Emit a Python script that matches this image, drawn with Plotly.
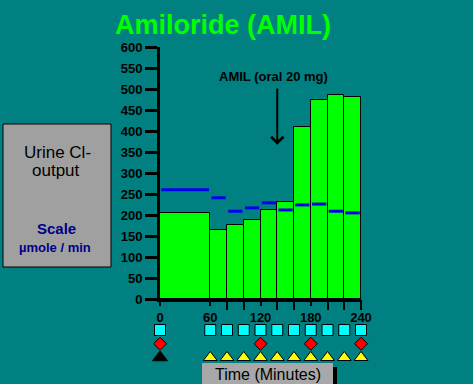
import plotly.graph_objects as go

# ---------------- data ----------------
period_start = [0, 60, 80, 100, 120, 140, 160, 180, 200, 220]
period_end = [60, 80, 100, 120, 140, 160, 180, 200, 220, 240]
cl_output = [204, 165, 177, 187, 213, 230, 410, 474, 486, 481]
blue_level = [260, 241, 209, 217, 229, 212, 224, 226, 209, 205]

y_ticks = [0, 50, 100, 150, 200, 250, 300, 350, 400, 450, 500, 550, 600]
x_label_ticks = [0, 60, 120, 180, 240]
x_label_text = ["0", "60", "120", "180", "240"]
x_minor_ticks = [80, 100, 140, 160, 200, 220, 240]

square_times = [0, 60, 80, 100, 120, 140, 160, 180, 200, 220, 240]
diamond_times = [0, 120, 180, 240]
black_tri_times = [0]
yellow_tri_times = [60, 80, 100, 120, 140, 160, 180, 200, 220, 240]

arrow_x, arrow_tip, arrow_tail = 140, 367, 505
note_x, note_y = 136, 529

# ---------------- layout helpers ----------------
W, H = 473, 384
TEAL = "#008080"
GREEN = "#00FF00"
FONT = "Liberation Sans, Arial, sans-serif"


def px(x):
    return x / W


def py(y):
    return (H - y) / H


widths = [e - s for s, e in zip(period_start, period_end)]

fig = go.Figure()

fig.add_trace(go.Bar(
    x=period_start, y=cl_output, width=widths, offset=0,
    marker=dict(color=GREEN, line=dict(color="black", width=1)),
    xaxis="x", yaxis="y", showlegend=False, hoverinfo="skip",
))

inset = 1.5
bx, by = [], []
for s, e, v in zip(period_start, period_end, blue_level):
    bx += [s + inset, e - inset, None]
    by += [v, v, None]
fig.add_trace(go.Scatter(
    x=bx, y=by, mode="lines", line=dict(color="#0000EE", width=3),
    xaxis="x", yaxis="y", showlegend=False, hoverinfo="skip",
))

# marker rows (levels: 3 squares, 2 diamonds, 1 triangles)
fig.add_trace(go.Scatter(
    x=square_times, y=[3] * len(square_times), mode="markers",
    marker=dict(symbol="square", size=11, color="#00FFFF", line=dict(color="black", width=1)),
    xaxis="x2", yaxis="y2", showlegend=False, hoverinfo="skip", cliponaxis=False,
))
fig.add_trace(go.Scatter(
    x=diamond_times, y=[2] * len(diamond_times), mode="markers",
    marker=dict(symbol="diamond", size=10, color="#FF0000", line=dict(color="black", width=1)),
    xaxis="x2", yaxis="y2", showlegend=False, hoverinfo="skip", cliponaxis=False,
))
fig.add_trace(go.Scatter(
    x=black_tri_times, y=[1] * len(black_tri_times), mode="markers",
    marker=dict(symbol="triangle-up", size=13, color="black", line=dict(color="black", width=1)),
    xaxis="x2", yaxis="y2", showlegend=False, hoverinfo="skip", cliponaxis=False,
))
fig.add_trace(go.Scatter(
    x=yellow_tri_times, y=[1] * len(yellow_tri_times), mode="markers",
    marker=dict(symbol="triangle-up", size=12, color="#FFFF00", line=dict(color="black", width=1)),
    xaxis="x2", yaxis="y2", showlegend=False, hoverinfo="skip", cliponaxis=False,
))

# dummy trace so xaxis3 (long minor ticks) is rendered
fig.add_trace(go.Scatter(x=[None], y=[None], xaxis="x3", yaxis="y", showlegend=False, hoverinfo="skip"))

xdom = [px(160), px(361)]
fig.update_layout(
    width=W, height=H, autosize=False,
    margin=dict(l=0, r=0, t=0, b=0, pad=0),
    paper_bgcolor=TEAL, plot_bgcolor=TEAL,
    bargap=0,
    font=dict(family=FONT, color="black"),
    xaxis=dict(
        domain=xdom, range=[0, 240], anchor="y",
        tickmode="array", tickvals=x_label_ticks, ticktext=x_label_text,
        ticks="outside", ticklen=4, tickwidth=2, tickcolor="black",
        showline=True, linecolor="black", linewidth=3,
        showgrid=False, zeroline=False, automargin=False,
        tickfont=dict(family=FONT, size=13, color="black", weight="bold"),
        ticklabelstandoff=0,
    ),
    xaxis3=dict(
        domain=xdom, range=[0, 240], anchor="y", overlaying="x",
        tickmode="array", tickvals=x_minor_ticks, showticklabels=False,
        ticks="outside", ticklen=10, tickwidth=2, tickcolor="black",
        showline=False, showgrid=False, zeroline=False, automargin=False,
    ),
    yaxis=dict(
        domain=[py(299), py(47)], range=[0, 600], anchor="x",
        tickmode="array", tickvals=y_ticks,
        ticks="outside", ticklen=12, tickwidth=3, tickcolor="black",
        showline=True, linecolor="black", linewidth=3,
        showgrid=False, zeroline=False, automargin=False,
        tickfont=dict(family=FONT, size=13, color="black", weight="bold"),
    ),
    xaxis2=dict(domain=xdom, range=[0, 240], anchor="y2", visible=False),
    yaxis2=dict(domain=[py(371.25), py(316.25)], range=[0, 4], anchor="x2", visible=False),
)

shapes = [
    # left info box
    dict(type="rect", xref="paper", yref="paper", x0=px(3), x1=px(111), y0=py(267), y1=py(124),
         fillcolor="#A0A0A0", line=dict(color="black", width=1), layer="above"),
    # time label shadow and box
    dict(type="rect", xref="paper", yref="paper", x0=px(206), x1=px(337), y0=py(392), y1=py(367),
         fillcolor="black", line=dict(width=0), layer="above"),
    dict(type="rect", xref="paper", yref="paper", x0=px(202), x1=px(333), y0=py(390), y1=py(363),
         fillcolor="#A8A8A8", line=dict(width=0), layer="above"),
]
fig.update_layout(shapes=shapes)


def label(text, x, y, size, color="black", ref="paper"):
    if ref == "paper":
        x, y = px(x), py(y)
    return dict(text=text, xref=ref if ref == "paper" else "x", yref=ref if ref == "paper" else "y",
                x=x, y=y, xanchor="center", yanchor="middle", showarrow=False,
                font=dict(family=FONT, size=size, color=color))


ann = [
    label("<b>Amiloride (AMIL)</b>", 223, 25, 27, GREEN),
    label("Urine Cl-", 57, 152, 17),
    label("output", 56, 170, 17),
    label("<b>Scale</b>", 56, 228, 15, "#000088"),
    label("<b>µmole / min</b>", 55, 248, 13, "#000088"),
    label("Time (Minutes)", 268, 374, 16),
    label("<b>AMIL (oral 20 mg)</b>", note_x, note_y, 13, ref="data"),
    dict(text="", xref="x", yref="y", x=arrow_x, y=arrow_tip, ax=arrow_x, ay=arrow_tail,
         axref="x", ayref="y", showarrow=True, arrowhead=4, arrowsize=1.2, arrowwidth=2,
         arrowcolor="black", standoff=0),
]
fig.update_layout(annotations=ann)

fig.write_html(
    "out.html",
    config={"displayModeBar": False, "responsive": False},
    post_script="document.body.style.margin='0';document.body.style.overflow='hidden';"
                "document.documentElement.style.overflow='hidden';",
)
